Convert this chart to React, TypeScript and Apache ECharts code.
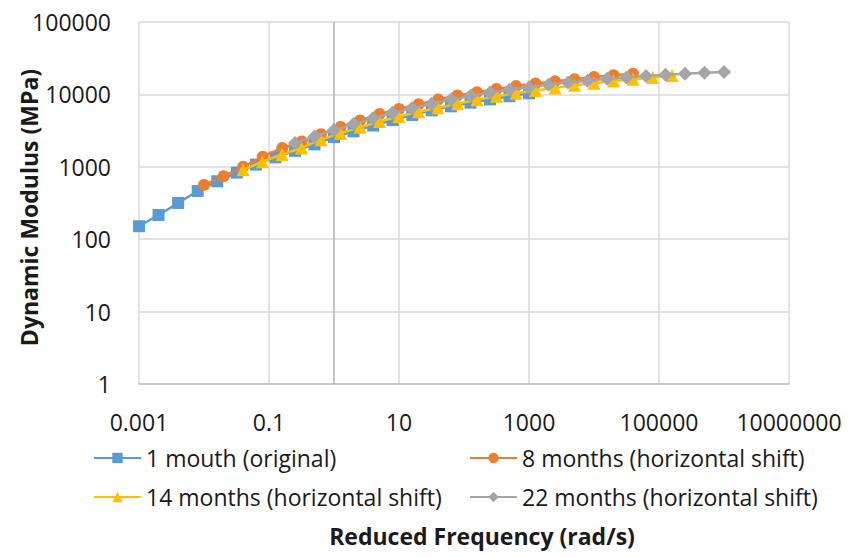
import React, { useEffect, useRef } from "react";
import * as echarts from "echarts";

const seriesNames = [
  "1 mouth (original)",
  "8 months (horizontal shift)",
  "14 months (horizontal shift)",
  "22 months (horizontal shift)",
];

const blueX = [0.001, 0.002, 0.004, 0.008, 0.016, 0.032, 0.063, 0.126, 0.251, 0.501, 1, 2, 4, 8, 16, 32, 63, 126, 251, 501, 1000];
const blueY = [151, 216, 316, 464, 631, 832, 1072, 1349, 1660, 2042, 2570, 3090, 3715, 4416, 5188, 6026, 6839, 7674, 8511, 9441, 10351];

const orangeX = [0.01, 0.02, 0.04, 0.08, 0.16, 0.32, 0.63, 1.26, 2.51, 5.01, 10, 20, 40, 79, 158, 316, 631, 1259, 2512, 5012, 10000, 19953, 39811];
const orangeY = [562, 741, 1000, 1380, 1820, 2239, 2818, 3548, 4365, 5370, 6310, 7328, 8511, 9661, 10715, 11885, 13032, 14125, 15136, 16218, 17378, 18408, 19275];

const yellowX = [0.04, 0.079, 0.158, 0.316, 0.631, 1.26, 2.51, 5.01, 10, 20, 39.8, 79.4, 158, 316, 631, 1259, 2512, 5012, 10000, 19953, 39811, 79433, 158489];
const yellowY = [912, 1175, 1479, 1820, 2371, 2917, 3508, 4217, 4955, 5754, 6531, 7413, 8414, 9441, 10351, 11350, 12303, 13335, 14289, 15311, 16218, 17179, 18197];

const grayX = [0.251, 0.501, 1, 2, 3.98, 7.94, 15.8, 31.6, 63.1, 126, 251, 501, 1000, 1995, 3981, 7943, 15849, 31623, 63096, 125893, 251189, 501187, 1000000];
const grayY = [2138, 2630, 3236, 3890, 4677, 5559, 6457, 7413, 8511, 9550, 10593, 11614, 12589, 13646, 14622, 15488, 16406, 17179, 17989, 18621, 19275, 19953, 20417];

const xMin = 0.001;
const xMax = 10000000;
const yMin = 1;
const yMax = 100000;

const FONT = "'Open Sans', 'Noto Sans', sans-serif";
const TEXT = "#1a1a1a";

const zip = (xs: number[], ys: number[]) => xs.map((x, i) => [x, ys[i]]);
const fmt = (v: number) => String(Number(v.toPrecision(4)));

export default function App() {
  const ref = useRef<HTMLDivElement>(null);
  useEffect(() => {
    document.body.style.margin = "0";
    if (!ref.current) return;
    const chart = echarts.init(ref.current, undefined, { renderer: "svg" });
    const colors = ["#5B9BD5", "#ED7D31", "#FFC000", "#A5A5A5"];
    const symbols = ["rect", "circle", "triangle", "diamond"];
    const sizes = [12, 12, 13, 14];
    const datas = [zip(blueX, blueY), zip(orangeX, orangeY), zip(yellowX, yellowY), zip(grayX, grayY)];
    const legendPos = [
      { left: 93, top: 445 },
      { left: 469, top: 445 },
      { left: 93, top: 484 },
      { left: 469, top: 484 },
    ];
    chart.setOption({
      animation: false,
      color: colors,
      grid: { left: 139, right: 64, top: 22, bottom: 173, containLabel: false, outerBoundsMode: "none" },
      legend: seriesNames.map((n, i) => ({
        data: [n],
        left: legendPos[i].left,
        top: legendPos[i].top,
        itemWidth: 47,
        itemHeight: 13,
        padding: 0,
        textStyle: { fontFamily: FONT, fontSize: 23, color: TEXT, lineHeight: 26 },
      })),
      xAxis: {
        type: "log",
        logBase: 10,
        min: xMin,
        max: xMax,
        interval: 2,
        name: "Reduced Frequency (rad/s)",
        nameLocation: "middle",
        nameGap: 140,
        nameMoveOverlap: false,
        nameTextStyle: { fontFamily: FONT, fontSize: 23, fontWeight: "bold", color: TEXT, padding: [0, 0, 0, 36] },
        axisLine: { show: true, lineStyle: { color: "#bfbfbf", width: 1.5 } },
        axisTick: { show: false },
        axisLabel: { formatter: fmt, fontFamily: FONT, fontSize: 23, color: TEXT, margin: 26 },
        splitLine: { show: true, lineStyle: { color: "#d9d9d9", width: 1.5 } },
        minorTick: { show: false },
      },
      yAxis: {
        type: "log",
        logBase: 10,
        min: yMin,
        max: yMax,
        interval: 1,
        name: "Dynamic Modulus (MPa)",
        nameLocation: "middle",
        nameRotate: 90,
        nameGap: 99,
        nameMoveOverlap: false,
        nameTextStyle: { fontFamily: FONT, fontSize: 23, fontWeight: "bold", color: TEXT, padding: [0, 9, 0, 0] },
        axisLine: { show: false },
        axisTick: { show: false },
        axisLabel: { formatter: fmt, fontFamily: FONT, fontSize: 23, color: TEXT, margin: 28 },
        splitLine: { show: true, lineStyle: { color: "#d9d9d9", width: 1.5 } },
      },
      series: seriesNames.map((n, i) => ({
        name: n,
        type: "line",
        data: datas[i],
        symbol: symbols[i],
        symbolSize: sizes[i],
        showAllSymbol: true,
        lineStyle: { width: 2.5, color: colors[i] },
        itemStyle: { color: colors[i] },
        z: 2 + i,
        markLine:
          i === 0
            ? {
                silent: true,
                symbol: "none",
                z: 1,
                label: { show: false },
                lineStyle: { color: "#b3b3b3", width: 1.5, type: "solid" },
                data: [{ xAxis: 1 }],
              }
            : undefined,
      })),
    });
    return () => chart.dispose();
  }, []);
  return <div ref={ref} style={{ width: 853, height: 557 }} />;
}
